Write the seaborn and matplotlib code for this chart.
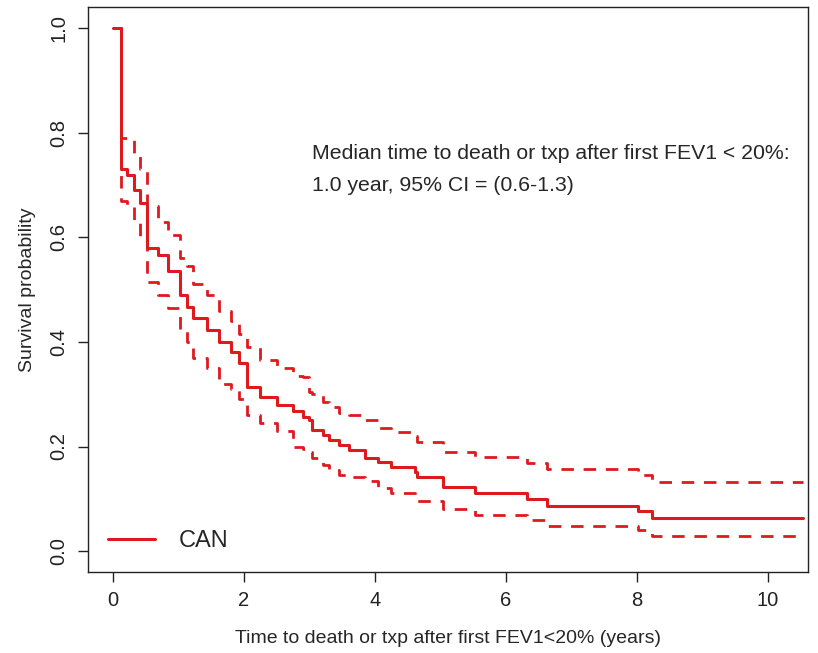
import matplotlib
matplotlib.use("Agg")
import matplotlib.pyplot as plt
import seaborn as sns
import pandas as pd

# Kaplan-Meier estimate with 95% CI
time_years = [0.00, 0.12, 0.21, 0.32, 0.41, 0.52, 0.69, 0.84, 1.02, 1.13,
              1.22, 1.44, 1.62, 1.80, 1.93, 2.05, 2.25, 2.50, 2.75, 2.90,
              3.00, 3.04, 3.20, 3.30, 3.45, 3.60, 3.85, 4.05, 4.25, 4.61,
              4.64, 5.04, 5.53, 6.32, 6.63, 8.02, 8.23, 10.53]
surv = [1.000, 0.730, 0.720, 0.690, 0.665, 0.580, 0.566, 0.535, 0.490, 0.467,
        0.445, 0.423, 0.400, 0.380, 0.360, 0.314, 0.295, 0.280, 0.268, 0.256,
        0.250, 0.231, 0.222, 0.212, 0.203, 0.193, 0.178, 0.170, 0.160, 0.151,
        0.141, 0.122, 0.111, 0.099, 0.086, 0.076, 0.063, 0.063]
upper = [1.000, 0.790, 0.790, 0.760, 0.730, 0.660, 0.630, 0.605, 0.560, 0.545,
         0.510, 0.490, 0.460, 0.440, 0.415, 0.390, 0.365, 0.350, 0.335, 0.333,
         0.304, 0.300, 0.285, 0.275, 0.265, 0.260, 0.250, 0.235, 0.228, 0.220,
         0.208, 0.190, 0.180, 0.168, 0.157, 0.145, 0.132, 0.132]
lower = [1.000, 0.670, 0.660, 0.630, 0.600, 0.515, 0.490, 0.465, 0.423, 0.400,
         0.370, 0.350, 0.320, 0.310, 0.290, 0.260, 0.245, 0.230, 0.200, 0.195,
         0.190, 0.178, 0.165, 0.155, 0.145, 0.141, 0.135, 0.120, 0.111, 0.103,
         0.095, 0.080, 0.069, 0.059, 0.048, 0.040, 0.029, 0.029]

df = pd.DataFrame({"time": time_years, "surv": surv, "upper": upper, "lower": lower})

sns.set_style("ticks")
plt.rcParams["font.family"] = ["Liberation Sans", "DejaVu Sans"]

red = "#DE1A1F"
fig = plt.figure(figsize=(8.18, 6.53), dpi=100)
ax = fig.add_axes([0.1076, 0.124, 0.8802, 0.865])

sns.lineplot(data=df, x="time", y="surv", ax=ax, color=red, lw=2.2,
             drawstyle="steps-post", label="CAN")
for col in ["upper", "lower"]:
    sns.lineplot(data=df, x="time", y=col, ax=ax, color=red, lw=2.0,
                 drawstyle="steps-post", linestyle=(0, (4.5, 3.5)))

ax.set_xlim(-0.38, 10.61)
ax.set_ylim(-0.04, 1.04)
ax.set_xticks([0, 2, 4, 6, 8, 10])
ax.set_yticks([0.0, 0.2, 0.4, 0.6, 0.8, 1.0])
ax.set_yticklabels(["0.0", "0.2", "0.4", "0.6", "0.8", "1.0"], rotation=90, va="center")
ax.tick_params(direction="out", length=7, width=1, labelsize=14.5, pad=7, colors="#222222")
for s in ax.spines.values():
    s.set_visible(True)
    s.set_linewidth(1.0)
    s.set_color("#222222")

ax.set_xlabel("Time to death or txp after first FEV1<20% (years)", fontsize=14, labelpad=14)
ax.set_ylabel("Survival probability", fontsize=14, labelpad=10)

ax.text(3.04, 0.761, "Median time to death or txp after first FEV1 < 20%:",
        fontsize=15.3, va="center", ha="left")
ax.text(3.04, 0.700, "1.0 year, 95% CI = (0.6-1.3)",
        fontsize=15.3, va="center", ha="left")

handles, labels = ax.get_legend_handles_labels()
ax.legend(handles[:1], labels[:1], loc="center left", bbox_to_anchor=(0.028, 0.055),
          frameon=False, fontsize=17, handlelength=2.0, handletextpad=1.0,
          borderpad=0, borderaxespad=0)

fig.savefig("out.png", dpi=100)
